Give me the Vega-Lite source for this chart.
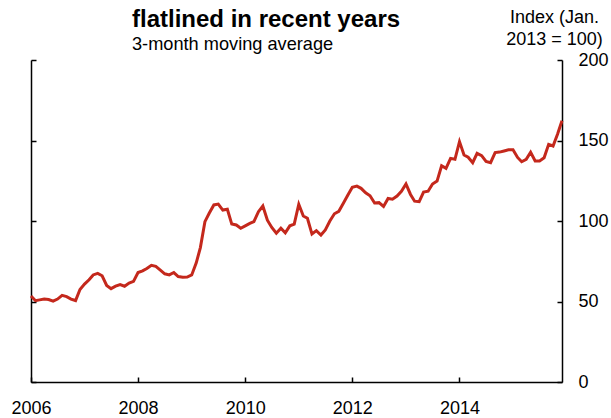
{
  "$schema": "https://vega.github.io/schema/vega-lite/v6.json",
  "width": 531,
  "height": 322,
  "autosize": {"type": "none"},
  "padding": {"left": 31, "top": 60, "right": 49, "bottom": 36},
  "background": "white",
  "config": {
    "view": {"stroke": null},
    "font": "Liberation Sans",
    "axis": {"grid": false, "domainColor": "black", "tickColor": "black", "labelColor": "black", "titleColor": "black", "labelFont": "Liberation Sans", "titleFont": "Liberation Sans"}
  },
  "title": {
    "text": "flatlined in recent years",
    "subtitle": "3-month moving average",
    "anchor": "start",
    "frame": "group",
    "dx": 101,
    "dy": 49,
    "font": "Liberation Sans",
    "fontSize": 24,
    "fontWeight": "bold",
    "color": "black",
    "subtitleFont": "Liberation Sans",
    "subtitleFontSize": 18.2,
    "subtitleColor": "black",
    "subtitlePadding": 4
  },
  "data": {
    "values": [
      {"date": "2006/01/01", "index": 53.4}, {"date": "2006/02/01", "index": 50.5}, {"date": "2006/03/01", "index": 51.0}, {"date": "2006/04/01", "index": 51.5}, {"date": "2006/05/01", "index": 51.2}, {"date": "2006/06/01", "index": 50.2}, {"date": "2006/07/01", "index": 51.5}, {"date": "2006/08/01", "index": 53.8}, {"date": "2006/09/01", "index": 53.0}, {"date": "2006/10/01", "index": 51.5}, {"date": "2006/11/01", "index": 50.6}, {"date": "2006/12/01", "index": 57.5},
      {"date": "2007/01/01", "index": 60.8}, {"date": "2007/02/01", "index": 63.5}, {"date": "2007/03/01", "index": 66.5}, {"date": "2007/04/01", "index": 67.5}, {"date": "2007/05/01", "index": 66.0}, {"date": "2007/06/01", "index": 60.0}, {"date": "2007/07/01", "index": 58.0}, {"date": "2007/08/01", "index": 59.5}, {"date": "2007/09/01", "index": 60.5}, {"date": "2007/10/01", "index": 59.5}, {"date": "2007/11/01", "index": 61.5}, {"date": "2007/12/01", "index": 62.5},
      {"date": "2008/01/01", "index": 68.0}, {"date": "2008/02/01", "index": 69.0}, {"date": "2008/03/01", "index": 70.5}, {"date": "2008/04/01", "index": 72.5}, {"date": "2008/05/01", "index": 71.8}, {"date": "2008/06/01", "index": 69.5}, {"date": "2008/07/01", "index": 67.2}, {"date": "2008/08/01", "index": 66.5}, {"date": "2008/09/01", "index": 68.0}, {"date": "2008/10/01", "index": 65.5}, {"date": "2008/11/01", "index": 65.0}, {"date": "2008/12/01", "index": 65.2},
      {"date": "2009/01/01", "index": 66.5}, {"date": "2009/02/01", "index": 74.0}, {"date": "2009/03/01", "index": 83.5}, {"date": "2009/04/01", "index": 99.6}, {"date": "2009/05/01", "index": 105.0}, {"date": "2009/06/01", "index": 110.0}, {"date": "2009/07/01", "index": 110.5}, {"date": "2009/08/01", "index": 106.8}, {"date": "2009/09/01", "index": 107.3}, {"date": "2009/10/01", "index": 98.1}, {"date": "2009/11/01", "index": 97.5}, {"date": "2009/12/01", "index": 95.5},
      {"date": "2010/01/01", "index": 97.0}, {"date": "2010/02/01", "index": 98.5}, {"date": "2010/03/01", "index": 99.6}, {"date": "2010/04/01", "index": 105.8}, {"date": "2010/05/01", "index": 109.3}, {"date": "2010/06/01", "index": 100.5}, {"date": "2010/07/01", "index": 96.0}, {"date": "2010/08/01", "index": 92.4}, {"date": "2010/09/01", "index": 95.5}, {"date": "2010/10/01", "index": 92.7}, {"date": "2010/11/01", "index": 97.0}, {"date": "2010/12/01", "index": 98.1},
      {"date": "2011/01/01", "index": 110.4}, {"date": "2011/02/01", "index": 103.1}, {"date": "2011/03/01", "index": 101.7}, {"date": "2011/04/01", "index": 91.9}, {"date": "2011/05/01", "index": 94.0}, {"date": "2011/06/01", "index": 91.3}, {"date": "2011/07/01", "index": 94.5}, {"date": "2011/08/01", "index": 100.0}, {"date": "2011/09/01", "index": 104.5}, {"date": "2011/10/01", "index": 106.0}, {"date": "2011/11/01", "index": 111.0}, {"date": "2011/12/01", "index": 116.0},
      {"date": "2012/01/01", "index": 121.0}, {"date": "2012/02/01", "index": 121.7}, {"date": "2012/03/01", "index": 120.3}, {"date": "2012/04/01", "index": 117.5}, {"date": "2012/05/01", "index": 115.7}, {"date": "2012/06/01", "index": 111.2}, {"date": "2012/07/01", "index": 111.4}, {"date": "2012/08/01", "index": 109.0}, {"date": "2012/09/01", "index": 114.0}, {"date": "2012/10/01", "index": 113.5}, {"date": "2012/11/01", "index": 115.5}, {"date": "2012/12/01", "index": 118.5},
      {"date": "2013/01/01", "index": 123.0}, {"date": "2013/02/01", "index": 116.5}, {"date": "2013/03/01", "index": 112.3}, {"date": "2013/04/01", "index": 112.0}, {"date": "2013/05/01", "index": 118.0}, {"date": "2013/06/01", "index": 118.5}, {"date": "2013/07/01", "index": 123.0}, {"date": "2013/08/01", "index": 124.8}, {"date": "2013/09/01", "index": 134.3}, {"date": "2013/10/01", "index": 132.7}, {"date": "2013/11/01", "index": 138.9}, {"date": "2013/12/01", "index": 138.3},
      {"date": "2014/01/01", "index": 149.3}, {"date": "2014/02/01", "index": 141.0}, {"date": "2014/03/01", "index": 139.6}, {"date": "2014/04/01", "index": 136.2}, {"date": "2014/05/01", "index": 142.0}, {"date": "2014/06/01", "index": 140.6}, {"date": "2014/07/01", "index": 137.0}, {"date": "2014/08/01", "index": 136.2}, {"date": "2014/09/01", "index": 142.5}, {"date": "2014/10/01", "index": 142.8}, {"date": "2014/11/01", "index": 143.5}, {"date": "2014/12/01", "index": 144.2},
      {"date": "2015/01/01", "index": 144.3}, {"date": "2015/02/01", "index": 139.5}, {"date": "2015/03/01", "index": 136.8}, {"date": "2015/04/01", "index": 138.3}, {"date": "2015/05/01", "index": 142.7}, {"date": "2015/06/01", "index": 137.3}, {"date": "2015/07/01", "index": 137.3}, {"date": "2015/08/01", "index": 139.3}, {"date": "2015/09/01", "index": 147.6}, {"date": "2015/10/01", "index": 146.6}, {"date": "2015/11/01", "index": 154.0}, {"date": "2015/12/01", "index": 162.3}
    ]
  },
  "encoding": {
    "x": {
      "field": "date",
      "type": "temporal",
      "scale": {"domain": [{"year": 2006, "month": 1, "date": 1}, {"year": 2015, "month": 12, "date": 1}]},
      "axis": {
        "title": null,
        "values": [{"year": 2006, "month": 1, "date": 1}, {"year": 2008, "month": 1, "date": 1}, {"year": 2010, "month": 1, "date": 1}, {"year": 2012, "month": 1, "date": 1}, {"year": 2014, "month": 1, "date": 1}],
        "format": "%Y",
        "domainWidth": 1.5,
        "tickSize": -5,
        "tickWidth": 1.5,
        "labelFontSize": 18,
        "labelPadding": 22,
        "labelOverlap": false,
        "labelFlush": false
      }
    }
  },
  "layer": [
    {
      "mark": {"type": "line", "color": "#c4281c", "strokeWidth": 3},
      "encoding": {
        "y": {
          "field": "index",
          "type": "quantitative",
          "scale": {"domain": [0, 200], "nice": false},
          "axis": {
            "orient": "left",
            "title": null,
            "labels": false,
            "values": [0, 50, 100, 150, 200],
            "domainWidth": 1.5,
            "tickSize": -5,
            "tickWidth": 1.5
          }
        }
      }
    },
    {
      "mark": {"type": "line", "strokeOpacity": 0},
      "encoding": {
        "y": {
          "field": "index",
          "type": "quantitative",
          "scale": {"domain": [0, 200], "nice": false},
          "axis": {
            "orient": "right",
            "title": ["Index (Jan.", "2013 = 100)"],
            "titleAngle": 0,
            "titleX": -8,
            "titleY": -38,
            "titleAlign": "center",
            "titleBaseline": "alphabetic",
            "titleFontSize": 18,
            "titleFontWeight": "normal",
            "titleLineHeight": 22,
            "values": [0, 50, 100, 150, 200],
            "domainWidth": 1.5,
            "tickSize": -5,
            "tickWidth": 1.5,
            "labelFontSize": 18,
            "labelAlign": "left",
            "labelBaseline": "middle",
            "labelPadding": 21
          }
        }
      }
    }
  ],
  "resolve": {"axis": {"y": "independent"}}
}
